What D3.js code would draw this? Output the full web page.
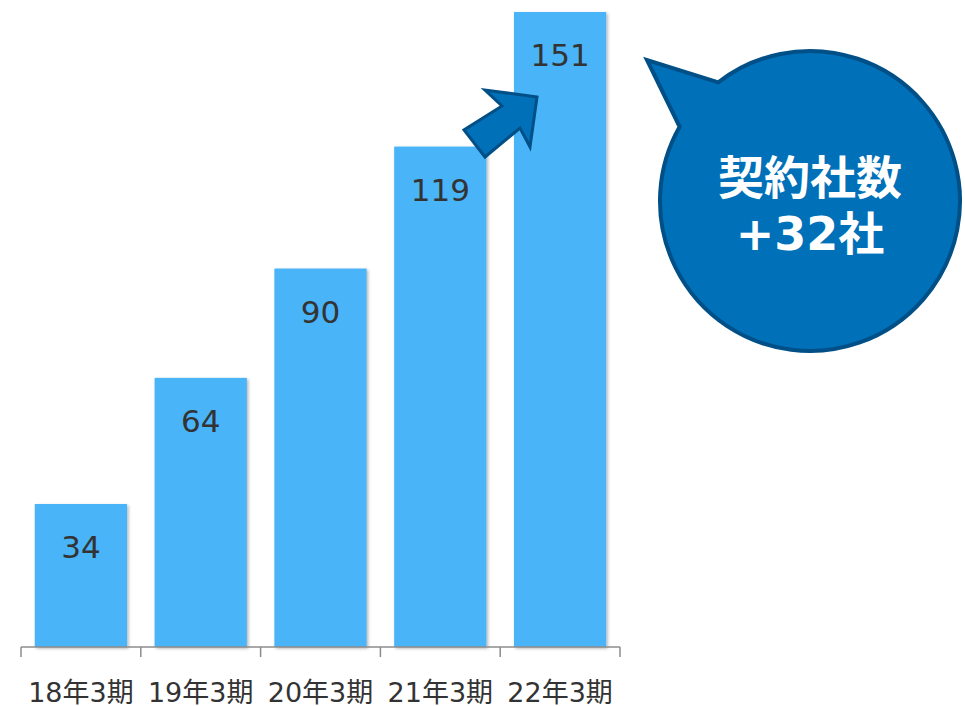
<!DOCTYPE html>
<html>
<head>
<meta charset="utf-8">
<script src="https://cdn.jsdelivr.net/npm/d3@7"></script>
<style>
  html, body { margin: 0; padding: 0; background: #fff; }
  svg { display: block; }
</style>
</head>
<body>
<svg id="chart" width="965" height="706"></svg>
<script>
// Contract count per fiscal period
const categories = ["18年3期", "19年3期", "20年3期", "21年3期", "22年3期"];
const values = [34, 64, 90, 119, 151];
const calloutTitle = "契約社数";
const calloutUnit = "社";

const svg = d3.select("#chart");
const baseY = 647;

const x = d3.scaleBand()
  .domain(categories)
  .range([21, 620])
  .paddingInner(0.23)
  .paddingOuter(0.115);

const y = d3.scaleLinear()
  .domain([0, d3.max(values)])
  .range([baseY, 12]);

// soft shadow under bars
const defs = svg.append("defs");
const f = defs.append("filter").attr("id", "barShadow")
  .attr("x", "-10%").attr("y", "-10%").attr("width", "130%").attr("height", "130%");
f.append("feDropShadow").attr("dx", 1.5).attr("dy", 1.5).attr("stdDeviation", 1.5)
  .attr("flood-color", "#000").attr("flood-opacity", 0.3);

const data = categories.map((c, i) => ({ c, v: values[i] }));

svg.append("g").selectAll("rect").data(data).join("rect")
  .attr("x", d => x(d.c))
  .attr("y", d => y(d.v))
  .attr("width", x.bandwidth())
  .attr("height", d => baseY - y(d.v))
  .attr("fill", "#49b4f8")
  .attr("filter", "url(#barShadow)");

// value labels inside the bar tops
svg.append("g").selectAll("text").data(data).join("text")
  .attr("x", d => x(d.c) + x.bandwidth() / 2)
  .attr("y", d => y(d.v) + 54)
  .attr("text-anchor", "middle")
  .attr("font-family", "'DejaVu Sans', sans-serif")
  .attr("font-size", 31)
  .attr("fill", "#333")
  .text(d => d.v);

// category axis with ticks at band boundaries
const axis = svg.append("g").attr("transform", `translate(0,${baseY})`)
  .call(d3.axisBottom(x).tickSize(0).tickPadding(0));
axis.select(".domain").attr("stroke", "#8c8c8c").attr("stroke-width", 1.5)
  .attr("d", `M${x.range()[0]},0H${x.range()[1]}`);
axis.selectAll(".tick text")
  .attr("y", 55)
  .attr("dy", 0)
  .attr("font-family", "'DejaVu Sans', 'Noto Sans CJK JP', sans-serif")
  .attr("font-size", 27)
  .attr("fill", "#333");
const bounds = d3.range(categories.length + 1).map(i => x.range()[0] + i * x.step());
axis.selectAll(".bound").data(bounds).join("line")
  .attr("class", "bound")
  .attr("x1", d => d).attr("x2", d => d)
  .attr("y1", 0).attr("y2", 10)
  .attr("stroke", "#8c8c8c").attr("stroke-width", 1.5);

// block arrow pointing to the latest bar
const arrowPts = [[537, 97], [485, 90], [502, 106], [464, 130], [485, 157], [520, 128], [530, 147]];
svg.append("polygon")
  .attr("points", arrowPts.map(p => p.join(",")).join(" "))
  .attr("fill", "#0070b8")
  .attr("stroke", "#004f87")
  .attr("stroke-width", 3)
  .attr("stroke-linejoin", "miter");

// speech bubble with the year-over-year increase
const cx = 810, cy = 201, r = 150;
const tip = [647, 60];
const a1 = Math.atan2(82 - cy, 718 - cx);
const a2 = Math.atan2(127 - cy, 680 - cx);
const bubble = d3.path();
bubble.moveTo(cx + r * Math.cos(a1), cy + r * Math.sin(a1));
bubble.arc(cx, cy, r, a1, a2, false);
bubble.lineTo(tip[0], tip[1]);
bubble.closePath();
svg.append("path")
  .attr("d", bubble.toString())
  .attr("fill", "#0070b8")
  .attr("stroke", "#004f87")
  .attr("stroke-width", 4)
  .attr("stroke-linejoin", "miter");

const diff = values[values.length - 1] - values[values.length - 2];
const bubbleText = svg.append("g")
  .attr("font-family", "'DejaVu Sans', 'Noto Sans CJK JP', sans-serif")
  .attr("font-weight", "bold")
  .attr("font-size", 46)
  .attr("fill", "#fff")
  .attr("text-anchor", "middle");
bubbleText.append("text").attr("x", cx).attr("y", 194).text(calloutTitle);
bubbleText.append("text").attr("x", cx).attr("y", 250).text(`+${diff}${calloutUnit}`);
</script>
</body>
</html>
